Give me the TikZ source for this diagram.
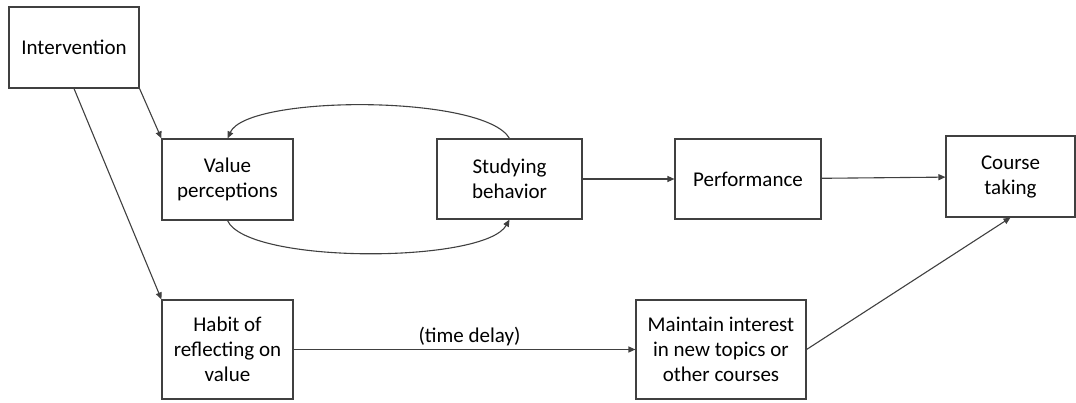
\documentclass[tikz,border=0pt]{standalone}
\usepackage{fontspec}
\setmainfont{Carlito}
\usetikzlibrary{arrows.meta}

\begin{document}
\begin{tikzpicture}[x=1pt,y=-1pt]
\useasboundingbox (0,0) rectangle (1076,403);
\begin{scope}[every node/.style={rectangle,draw=black!75,line width=1.1pt,
              align=center,inner sep=0pt,
              font=\fontsize{21}{25}\selectfont}]
    \node[minimum width=130pt,minimum height=81pt] (Int) at (74.0, 47.5) {Intervention};
    \node[minimum width=131pt,minimum height=81pt] (Val) at (227.5, 179.5) {Value\\perceptions};
    \node[minimum width=145pt,minimum height=80pt] (Stud) at (509.5, 179.0) {Studying\\behavior};
    \node[minimum width=146pt,minimum height=80pt] (Perf) at (748.0, 179.0) {Performance};
    \node[minimum width=129pt,minimum height=81pt] (Course) at (1010.5, 176.5) {Course\\taking};
    \node[minimum width=131pt,minimum height=99pt] (Habit) at (227.5, 349.5) {Habit of\\reflecting on\\value};
    \node[minimum width=170pt,minimum height=99pt] (Maint) at (721.0, 349.5) {Maintain interest\\in new topics or\\other courses};
\end{scope}
\begin{scope}[>={Triangle[length=7pt,width=6pt]},
              every node/.style={font=\fontsize{21}{25}\selectfont},
              arrow_edge/.style={draw=black!75,line width=1.1pt}]
    \path [->] (Int.south east) edge [arrow_edge] (Val.north west);
    \path [->] (Int.south) edge [arrow_edge] (Habit.north west);
    \draw [->,arrow_edge] (Stud.north) .. controls +(-25,-44) and +(20,-44) .. (Val.north);
    \draw [->,arrow_edge] (Val.south) .. controls +(20,44) and +(-25,44) .. (Stud.south);
    \path [->] (Stud) edge [arrow_edge] (Perf);
    \path [->] (Perf) edge [arrow_edge] (Course);
    \path [->] (Habit) edge [arrow_edge] node[above,inner sep=3pt,xshift=5pt] {(time delay)} (Maint);
    \path [->] (Maint.east) edge [arrow_edge] (Course.south);
\end{scope}
\end{tikzpicture}
\end{document}
